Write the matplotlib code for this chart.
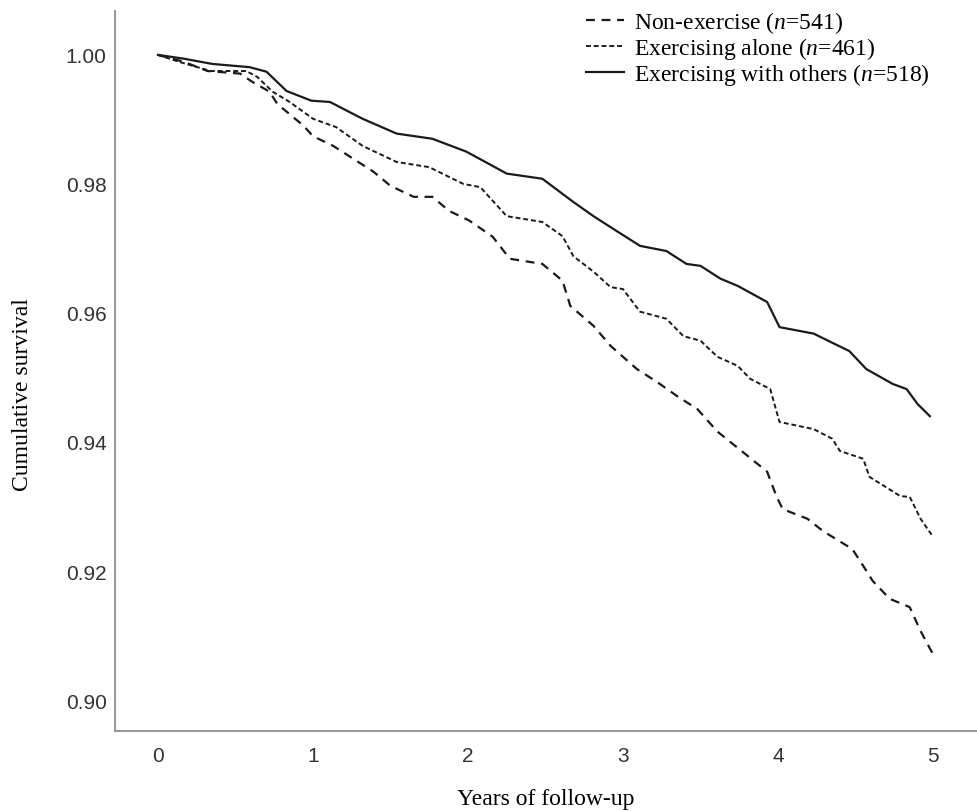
import matplotlib
matplotlib.use('Agg')
from matplotlib import pyplot

# Kaplan-Meier style curves
years_non = [0.00, 0.17, 0.32, 0.53, 0.61, 0.72, 0.77, 0.83, 0.94, 1.00, 1.13, 1.26, 1.39, 1.50, 1.65,
             1.77, 1.88, 2.01, 2.16, 2.27, 2.48, 2.61, 2.66, 2.81, 2.92, 3.09, 3.22, 3.35, 3.48, 3.61,
             3.75, 3.93, 3.99, 4.03, 4.19, 4.29, 4.48, 4.55, 4.61, 4.72, 4.85, 4.92, 5.00]
surv_non = [1.0000, 0.9989, 0.9975, 0.9971, 0.9958, 0.9943, 0.9924, 0.9912, 0.9890, 0.9874, 0.9859,
            0.9839, 0.9819, 0.9797, 0.9780, 0.9780, 0.9758, 0.9743, 0.9718, 0.9684, 0.9676, 0.9650,
            0.9611, 0.9580, 0.9549, 0.9513, 0.9493, 0.9471, 0.9451, 0.9416, 0.9389, 0.9354, 0.9316,
            0.9296, 0.9281, 0.9262, 0.9234, 0.9208, 0.9185, 0.9157, 0.9144, 0.9107, 0.9071]

years_alone = [0.00, 0.14, 0.34, 0.57, 0.64, 0.74, 0.85, 1.00, 1.15, 1.32, 1.54, 1.75, 1.97, 2.08, 2.25,
               2.48, 2.61, 2.68, 2.81, 2.92, 3.00, 3.11, 3.28, 3.39, 3.50, 3.61, 3.74, 3.82, 3.95, 4.01,
               4.23, 4.35, 4.40, 4.55, 4.59, 4.79, 4.85, 4.92, 5.00]
surv_alone = [1.0000, 0.9989, 0.9975, 0.9975, 0.9966, 0.9943, 0.9927, 0.9901, 0.9888, 0.9859, 0.9834,
              0.9826, 0.9800, 0.9795, 0.9750, 0.9741, 0.9719, 0.9688, 0.9664, 0.9640, 0.9637, 0.9602,
              0.9591, 0.9564, 0.9557, 0.9532, 0.9518, 0.9498, 0.9482, 0.9431, 0.9420, 0.9405, 0.9386,
              0.9374, 0.9346, 0.9316, 0.9315, 0.9281, 0.9253]

years_others = [0.00, 0.17, 0.35, 0.59, 0.70, 0.83, 0.99, 1.11, 1.32, 1.54, 1.77, 1.99, 2.25, 2.48, 2.68,
                2.81, 2.92, 3.11, 3.28, 3.41, 3.50, 3.63, 3.74, 3.93, 4.01, 4.23, 4.34, 4.46, 4.57, 4.74,
                4.83, 4.90, 4.98]
surv_others = [1.0000, 0.9994, 0.9986, 0.9981, 0.9974, 0.9944, 0.9929, 0.9927, 0.9901, 0.9878, 0.9870,
               0.9850, 0.9816, 0.9808, 0.9772, 0.9750, 0.9733, 0.9704, 0.9696, 0.9676, 0.9673, 0.9653,
               0.9642, 0.9617, 0.9578, 0.9568, 0.9555, 0.9541, 0.9513, 0.9490, 0.9482, 0.9459, 0.9440]

x_ticks = [0, 1, 2, 3, 4, 5]
y_ticks = [0.90, 0.92, 0.94, 0.96, 0.98, 1.00]
labels = ['Non-exercise ($n$=541)', 'Exercising alone ($n$=461)', 'Exercising with others ($n$=518)']

_SERIF = 'Liberation Serif'
_AXIS_GREY = '#9a9a9a'
_LINE = '#1a1a1a'

pyplot.rcParams['mathtext.fontset'] = 'custom'
pyplot.rcParams['mathtext.rm'] = _SERIF
pyplot.rcParams['mathtext.it'] = _SERIF + ':italic'

fig = pyplot.figure(figsize=(9.77, 8.12), dpi=100)
ax = fig.add_axes([0.1177, 0.0985, 0.8823, 0.8867])

ax.plot(years_non, surv_non, color=_LINE, lw=1.6, linestyle=(0, (4, 3)), label=labels[0])
ax.plot(years_alone, surv_alone, color=_LINE, lw=1.4, linestyle=(0, (2.5, 1.5)), label=labels[1])
ax.plot(years_others, surv_others, color=_LINE, lw=1.6, linestyle='-', label=labels[2])

ax.set_xlim(-0.277, 5.284)
ax.set_ylim(0.8952, 1.0068)
ax.set_xticks(x_ticks)
ax.set_yticks(y_ticks)
ax.set_yticklabels([f'{v:.2f}' for v in y_ticks])
ax.tick_params(length=0, labelsize=15, labelcolor='#333333', labelfontfamily='Liberation Sans')
ax.tick_params(axis='y', pad=6)
ax.tick_params(axis='x', pad=11)

for side in ('top', 'right'):
    ax.spines[side].set_visible(False)
for side in ('left', 'bottom'):
    ax.spines[side].set_color(_AXIS_GREY)
    ax.spines[side].set_linewidth(1.5)

ax.set_xlabel('Years of follow-up', family=_SERIF, fontsize=17, labelpad=16)
ax.set_ylabel('Cumulative survival', family=_SERIF, fontsize=17)
ax.yaxis.set_label_coords(-0.095, 0.468)

legend = fig.legend(loc='upper left', bbox_to_anchor=(0.578, 1.014), frameon=False,
                    prop={'family': _SERIF, 'size': 17}, handlelength=1.6,
                    handletextpad=0.45, labelspacing=0.0)

fig.savefig('out.png', dpi=100)
